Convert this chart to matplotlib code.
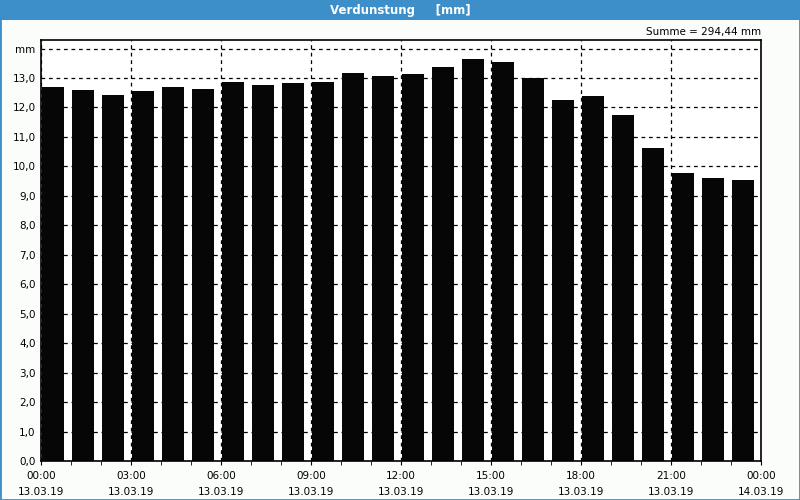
import numpy as np
import matplotlib.pyplot as plt
from matplotlib.patches import Rectangle

# hourly evaporation values (mm), 13.03.19 00:00 - 23:00
hours = np.arange(24)
values = [12.69, 12.59, 12.42, 12.56, 12.69, 12.63, 12.86, 12.76, 12.83, 12.86,
          13.17, 13.07, 13.14, 13.37, 13.65, 13.54, 13.00, 12.25, 12.39, 11.74,
          10.62, 9.78, 9.61, 9.54]
xtick_pos = [0, 3, 6, 9, 12, 15, 18, 21, 24]
xtick_labels = ['00:00\n13.03.19', '03:00\n13.03.19', '06:00\n13.03.19',
                '09:00\n13.03.19', '12:00\n13.03.19', '15:00\n13.03.19',
                '18:00\n13.03.19', '21:00\n13.03.19', '00:00\n14.03.19']
ytick_pos = list(range(15))
ytick_labels = ['%d,0' % v for v in range(14)] + ['mm']

fig = plt.figure(figsize=(8, 5), dpi=100, facecolor='#fbfdfb')
# blue frame + title bar
fig.patches.append(Rectangle((0, 0), 1, 1, transform=fig.transFigure, fill=False,
                             edgecolor='#3c8fc8', linewidth=2))
fig.patches.append(Rectangle((0, 0.96), 1, 0.04, transform=fig.transFigure,
                             facecolor='#3c8fc8', edgecolor='none'))
fig.text(0.5, 0.979, 'Verdunstung     [mm]', color='white', fontsize=8.5,
         fontweight='bold', ha='center', va='center')
fig.text(0.952, 0.935, 'Summe = 294,44 mm', fontsize=7.5, ha='right', va='center')

ax = fig.add_axes([0.05125, 0.078, 0.9, 0.842])
ax.set_facecolor('white')
ax.grid(True, which='major', color='black', linestyle=(0, (3, 3)), linewidth=0.9, zorder=1)
ax.set_axisbelow(True)
ax.bar(hours + 0.03, values, width=0.73, align='edge', color='#060606', zorder=2)
ax.set_xlim(0, 24)
ax.set_ylim(0, 14.29)
ax.set_xticks(xtick_pos)
ax.set_xticklabels(xtick_labels, fontsize=7.5, linespacing=1.75)
ax.set_xticks(hours, minor=True)
ax.set_yticks(ytick_pos)
ax.set_yticklabels(ytick_labels, fontsize=7.5)
ax.tick_params(axis='x', which='both', length=3, direction='out', pad=4)
ax.tick_params(axis='y', length=0, pad=4)
for s in ax.spines.values():
    s.set_linewidth(1.2)
    s.set_zorder(4)

plt.savefig('out.png', dpi=100, facecolor=fig.get_facecolor())
